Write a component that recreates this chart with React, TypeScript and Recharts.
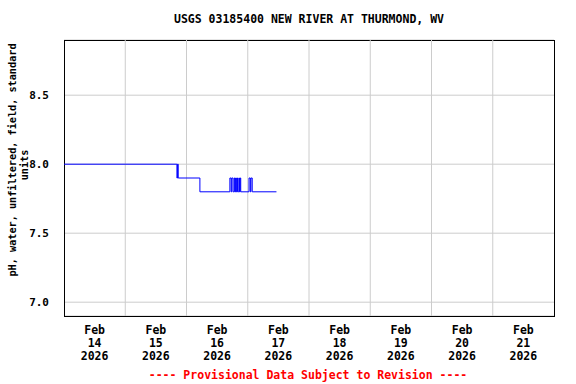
import {
  LineChart,
  Line,
  XAxis,
  YAxis,
  CartesianGrid,
  ReferenceLine,
  ReferenceArea,
} from "recharts";

// hours since Feb 14 2026 00:00 and pH reading at each change
const hours = [
  0, 44.25, 44.5, 44.75, 53.25, 65.0, 65.5, 65.75, 66.25, 66.75, 67.0, 67.25,
  67.5, 67.75, 68.0, 68.5, 68.75, 69.0, 69.25, 72.5, 73.0, 73.25, 73.75, 83.25,
];
const ph = [
  8.0, 7.9, 8.0, 7.9, 7.8, 7.9, 7.8, 7.9, 7.8, 7.9, 7.8, 7.9, 7.8, 7.9, 7.8,
  7.9, 7.8, 7.9, 7.8, 7.9, 7.8, 7.9, 7.8, 7.8,
];

const dayLabels = ["14", "15", "16", "17", "18", "19", "20", "21"];
const labelTicks = [12, 36, 60, 84, 108, 132, 156, 180];
const midnights = [24, 48, 72, 96, 120, 144, 168];
const yTicks = [7.0, 7.5, 8.0, 8.5];

const data = hours.map((h, i) => ({ h, ph: ph[i] }));

const FONT = "'DejaVu Sans Mono', monospace";

const DateTick = (props: any) => {
  const { x, y, payload } = props;
  const idx = labelTicks.indexOf(payload.value);
  return (
    <g fontFamily={FONT} fontSize={11.5} fontWeight="bold" fill="#000">
      <text x={x} y={y + 10} textAnchor="middle">Feb</text>
      <text x={x} y={y + 23} textAnchor="middle">{dayLabels[idx]}</text>
      <text x={x} y={y + 36} textAnchor="middle">2026</text>
    </g>
  );
};

const YTick = (props: any) => {
  const { x, y, payload } = props;
  return (
    <text
      x={x}
      y={y + 4}
      textAnchor="end"
      fontFamily={FONT}
      fontSize={11}
      fontWeight="bold"
      fill="#000"
    >
      {payload.value.toFixed(1)}
    </text>
  );
};

const App = () => {
  return (
    <div style={{ position: "absolute", left: 0, top: 0, background: "#fff" }}>
      <LineChart
        width={576}
        height={384}
        data={data}
        margin={{ top: 40, right: 22, left: 0, bottom: 0 }}
      >
        <text
          x={309}
          y={23}
          textAnchor="middle"
          fontFamily={FONT}
          fontSize={11.5}
          fontWeight="bold"
        >
          USGS 03185400 NEW RIVER AT THURMOND, WV
        </text>
        <text
          transform="rotate(-90)"
          x={-160}
          y={16}
          textAnchor="middle"
          fontFamily={FONT}
          fontSize={10.2}
          fontWeight="bold"
        >
          pH, water, unfiltered, field, standard
        </text>
        <text
          transform="rotate(-90)"
          x={-165}
          y={28}
          textAnchor="middle"
          fontFamily={FONT}
          fontSize={10.2}
          fontWeight="bold"
        >
          units
        </text>
        <text
          x={308}
          y={379}
          textAnchor="middle"
          fontFamily={FONT}
          fontSize={11.5}
          fontWeight="bold"
          fill="#ff0000"
        >
          ---- Provisional Data Subject to Revision ----
        </text>

        <CartesianGrid vertical={false} stroke="#cccccc" />
        {midnights.map((m) => (
          <ReferenceLine key={m} x={m} stroke="#cccccc" />
        ))}

        <XAxis
          dataKey="h"
          type="number"
          domain={[0, 192]}
          ticks={labelTicks}
          tick={<DateTick />}
          axisLine={false}
          tickLine={false}
          height={68}
          interval={0}
        />
        <YAxis
          type="number"
          domain={[6.9, 8.9]}
          ticks={yTicks}
          tick={<YTick />}
          axisLine={false}
          tickLine={false}
          tickMargin={9}
          width={64}
          interval={0}
        />

        <Line
          type="stepAfter"
          dataKey="ph"
          stroke="#0000ff"
          strokeWidth={1}
          dot={false}
          isAnimationActive={false}
        />

        <ReferenceArea
          x1={0}
          x2={192}
          y1={6.9}
          y2={8.9}
          fill="none"
          stroke="#000"
          strokeWidth={1}
          fillOpacity={0}
          shapeRendering="crispEdges"
        />
      </LineChart>
    </div>
  );
};

export default App;
